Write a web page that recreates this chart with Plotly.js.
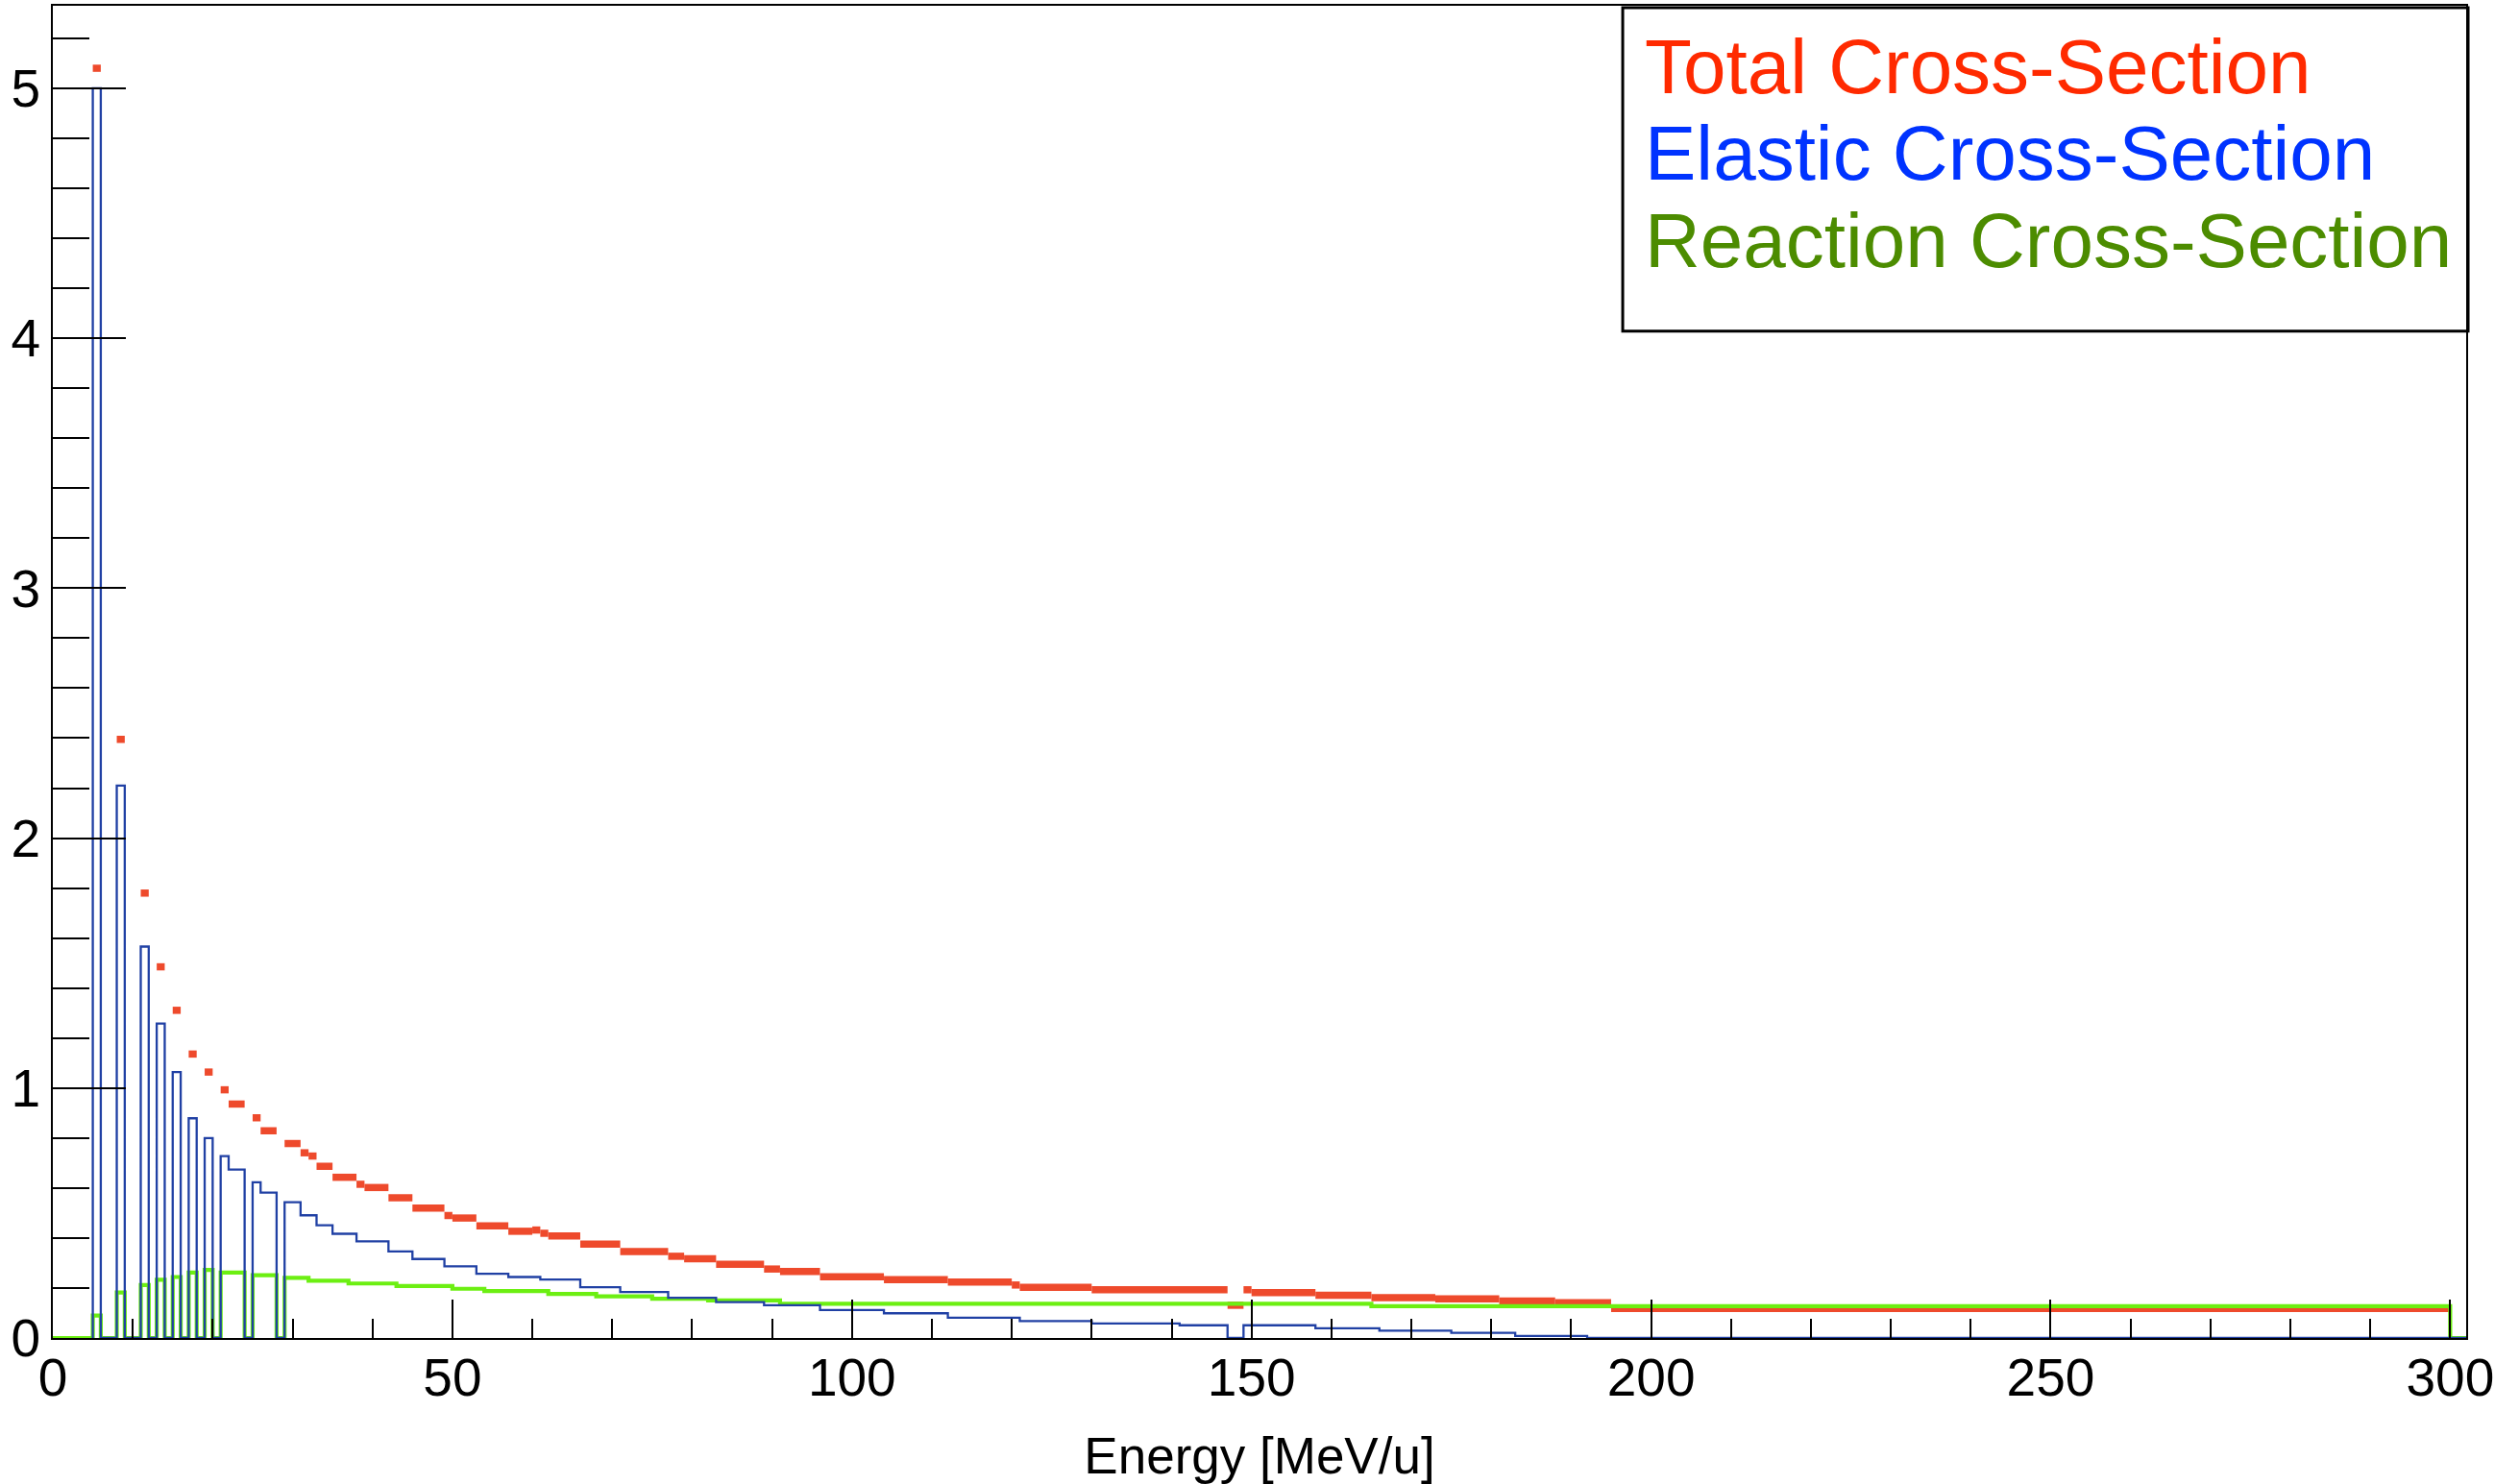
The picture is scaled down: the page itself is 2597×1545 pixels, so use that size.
<!DOCTYPE html>
<html>
<head>
<meta charset="utf-8">
<script src="https://cdn.plot.ly/plotly-3.0.1.min.js"></script>
<style>
html,body{margin:0;padding:0;background:#ffffff;}
#chart{width:2597px;height:1545px;}
</style>
</head>
<body>
<div id="chart"></div>
<script>
// Elastic cross-section histogram: bin edges (MeV/u) and contents
const elasticEdges = [5,6,8,9,11,12,13,14,15,16,17,18,19,20,21,22,24,25,26,28,29,31,33,35,38,42,45,49,53,57,61,66,71,77,83,89,96,104,112,121,130,141,147,149,158,166,175,183,192,302];
const elasticValues = [5.0,0,2.21,0,1.566,0,1.258,0,1.064,0,0.879,0,0.80,0,0.728,0.674,0,0.623,0.582,0,0.543,0.491,0.451,0.417,0.387,0.346,0.316,0.287,0.257,0.244,0.234,0.203,0.184,0.161,0.144,0.131,0.112,0.099,0.081,0.068,0.058,0.051,0,0.051,0.039,0.029,0.021,0.008,0];

// Reaction cross-section histogram: bin edges and contents
const reactionEdges = [0,5,6,8,9,11,12,13,14,15,16,17,18,19,20,21,24,25,28,29,32,37,43,50,54,62,68,75,82,91,165,300,302];
const reactionValues = [0,0.09,0,0.182,0,0.212,0,0.233,0,0.244,0,0.262,0,0.272,0,0.262,0,0.251,0,0.241,0.229,0.218,0.208,0.197,0.188,0.176,0.167,0.157,0.150,0.137,0.127,0];

// Total cross-section: runs of bins with equal content (start, end, value)
const totalStart = [5,8,11,13,15,17,19,21,22,25,26,29,31,32,33,35,38,39,42,45,49,50,53,57,60,61,62,66,71,77,79,83,89,91,96,104,112,120,121,130,147,149,150,158,165,173,181,188,195];
const totalEnd   = [6,9,12,14,16,18,20,22,24,26,28,31,32,33,35,38,39,42,45,49,50,53,57,60,61,62,66,71,77,79,83,89,91,96,104,112,120,121,130,147,149,150,158,165,173,181,188,195,300];
const totalValue = [5.08,2.395,1.78,1.485,1.311,1.136,1.064,0.993,0.936,0.881,0.829,0.778,0.741,0.728,0.687,0.643,0.615,0.602,0.561,0.520,0.490,0.480,0.449,0.427,0.432,0.419,0.408,0.376,0.346,0.327,0.317,0.295,0.276,0.266,0.245,0.2335,0.2235,0.212,0.203,0.193,0.131,0.193,0.182,0.171,0.161,0.157,0.148,0.141,0.118];

// Axis ticks and legend labels
const xTickVals = [0,50,100,150,200,250,300];
const yTickVals = [0,1,2,3,4,5];
const legendLabels = ["Total Cross-Section","Elastic Cross-Section","Reaction Cross-Section"];
const legendColors = ["#ff2a00","#0033ff","#4c8c00"];

function histPath(edges, values){
  const x=[edges[0]], y=[0];
  for(let i=0;i<values.length;i++){ x.push(edges[i]); y.push(values[i]); }
  x.push(edges[edges.length-1]); y.push(0);
  return {x:x, y:y};
}
function runSegments(starts, ends, vals){
  const x=[], y=[];
  for(let i=0;i<vals.length;i++){ x.push(starts[i], ends[i], null); y.push(vals[i], vals[i], null); }
  return {x:x, y:y};
}

const el = histPath(elasticEdges, elasticValues);
const re = histPath(reactionEdges, reactionValues);
const tot = runSegments(totalStart, totalEnd, totalValue);

const font = "'Liberation Sans', Arial, Helvetica, sans-serif";

const traces = [
  {type:'scatter', mode:'lines', x:tot.x, y:tot.y, connectgaps:false,
   line:{color:'#ee4a2c', width:7.5}, name:legendLabels[0], hoverinfo:'skip'},
  {type:'scatter', mode:'lines', x:re.x, y:re.y,
   line:{color:'#6cef12', width:4.2, shape:'hv'}, name:legendLabels[2], hoverinfo:'skip'},
  {type:'scatter', mode:'lines', x:el.x, y:el.y,
   line:{color:'#2040a4', width:2.3, shape:'hv'}, name:legendLabels[1], hoverinfo:'skip'}
];

const axisCommon = {
  showline:true, linecolor:'#000', linewidth:2, mirror:true,
  showgrid:false, zeroline:false, ticks:'inside', tickcolor:'#000', tickwidth:2,
  tickfont:{family:font, size:55, color:'#000'}
};

const layout = {
  width:2597, height:1545,
  margin:{l:55, r:30, t:6, b:152},
  paper_bgcolor:'#ffffff', plot_bgcolor:'#ffffff',
  showlegend:false,
  xaxis:Object.assign({}, axisCommon, {
    range:[0,302], tickvals:xTickVals, ticktext:xTickVals.map(String), ticklen:40,
    ticklabelstandoff:-8,
    minor:{dtick:10, tick0:0, ticklen:20, tickwidth:2, tickcolor:'#000', ticks:'inside'},
    title:{text:'Energy [MeV/u]', font:{family:font, size:53, color:'#000'}, standoff:36}
  }),
  yaxis:Object.assign({}, axisCommon, {
    range:[0,5.33], tickvals:yTickVals, ticktext:yTickVals.map(String), ticklen:76,
    minor:{dtick:0.2, tick0:0, ticklen:38, tickwidth:2, tickcolor:'#000', ticks:'inside'}
  }),
  shapes:[
    {type:'rect', xref:'paper', yref:'paper', x0:0.6505, x1:1.0008, y0:0.7557, y1:0.9986,
     line:{color:'#000', width:3}, fillcolor:'rgba(255,255,255,0)', layer:'above'}
  ],
  annotations: legendLabels.map(function(t,i){
    return {xref:'paper', yref:'paper', x:0.6588, y:[0.9539,0.8890,0.8234][i],
      xanchor:'left', yanchor:'middle', showarrow:false, text:t,
      font:{family:font, size:80, color:legendColors[i]}};
  })
};

Plotly.newPlot('chart', traces, layout, {staticPlot:true, displayModeBar:false});
</script>
</body>
</html>
